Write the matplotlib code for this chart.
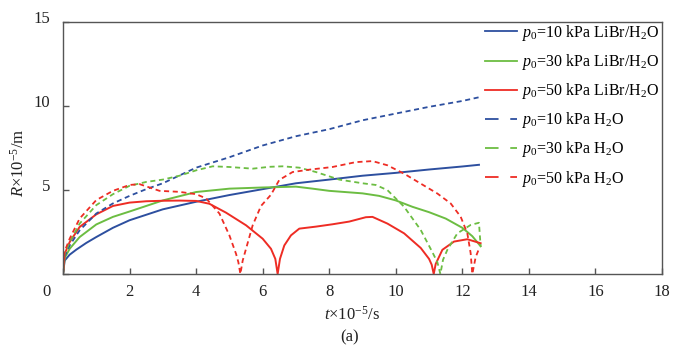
import matplotlib
matplotlib.use('Agg')
import matplotlib.pyplot as plt
from matplotlib.lines import Line2D
from matplotlib.transforms import ScaledTranslation

plt.rcParams['font.family'] = ['Liberation Serif', 'DejaVu Serif']
plt.rcParams['mathtext.fontset'] = 'custom'
plt.rcParams['mathtext.rm'] = 'Liberation Serif'
plt.rcParams['mathtext.it'] = 'Liberation Serif:italic'

# time in 1e-5 s, radius in 1e-5 m
t_b = [0, 0.05, 0.2, 0.4, 0.7, 1, 1.5, 2, 3, 4, 5, 6, 7, 8, 9, 10, 11, 12, 12.5]
R_b = [0, 0.8, 1.15, 1.45, 1.85, 2.2, 2.75, 3.2, 3.85, 4.3, 4.7, 5.05, 5.4, 5.62, 5.85, 6.02, 6.22, 6.4, 6.5]

t_g = [0, 0.05, 0.2, 0.5, 1, 1.5, 2, 3, 4, 5, 6, 7, 7.5, 8, 9, 9.5, 10, 10.5, 11, 11.5, 12, 12.3, 12.55]
R_g = [0, 0.95, 1.5, 2.2, 2.95, 3.4, 3.72, 4.38, 4.88, 5.08, 5.15, 5.2, 5.08, 4.95, 4.8, 4.65, 4.38, 4.0, 3.68, 3.3, 2.75, 2.25, 1.65]

t_r = [0, 0.05, 0.2, 0.5, 1, 1.5, 2, 2.5, 3, 3.5, 4, 4.4, 4.9, 5.5, 6.0, 6.25, 6.38, 6.45, 6.52, 6.65,
       6.85, 7.1, 7.6, 8.1, 8.6, 9.1, 9.3, 9.75, 10.25, 10.75, 11.0, 11.08, 11.14, 11.2, 11.4, 11.75, 12.15, 12.55]
R_r = [0, 1.2, 1.9, 2.8, 3.55, 4.05, 4.25, 4.33, 4.36, 4.37, 4.35, 4.18, 3.65, 2.9, 2.1, 1.5, 0.9, 0, 0.9, 1.7,
       2.3, 2.7, 2.82, 2.96, 3.12, 3.38, 3.4, 3.0, 2.42, 1.55, 0.9, 0.55, 0, 0.6, 1.44, 1.93, 2.07, 1.83]

t_bd = [0, 0.05, 0.2, 0.5, 1, 1.5, 2, 2.5, 3, 4, 5, 6, 7, 8, 9, 10, 11, 12, 12.5]
R_bd = [0, 1.05, 1.7, 2.6, 3.6, 4.2, 4.65, 5.05, 5.4, 6.33, 6.95, 7.65, 8.2, 8.62, 9.15, 9.55, 9.95, 10.3, 10.52]

t_gd = [0, 0.05, 0.2, 0.5, 1, 1.5, 2, 2.5, 3, 3.5, 4, 4.5, 5, 5.7, 6.2, 6.6, 7.1, 7.6, 8.3, 9.0, 9.4,
        9.75, 10.25, 10.75, 11.1, 11.25, 11.34, 11.42, 11.55, 11.85, 12.25, 12.5, 12.55]
R_gd = [0, 1.2, 1.9, 3.0, 4.1, 4.75, 5.25, 5.48, 5.62, 5.85, 6.17, 6.41, 6.37, 6.27, 6.38, 6.41, 6.33, 6.07, 5.62, 5.4, 5.3,
        4.99, 4.0, 2.62, 1.3, 0.7, 0, 0.85, 1.44, 2.42, 2.92, 3.05, 1.65]

t_rd = [0, 0.05, 0.2, 0.5, 1, 1.5, 2, 2.3, 2.9, 3.5, 4.0, 4.3, 4.7, 5.0, 5.2, 5.27, 5.33, 5.4, 5.5, 5.7,
        5.95, 6.25, 6.5, 6.9, 7.4, 8.1, 8.8, 9.3, 9.75, 10.25, 10.75, 11.25, 11.65, 11.95, 12.15, 12.25, 12.3, 12.4, 12.5]
R_rd = [0, 1.35, 2.1, 3.3, 4.4, 4.95, 5.3, 5.35, 4.95, 4.89, 4.75, 4.5, 3.6, 2.3, 1.2, 0.7, 0, 0.8, 1.5, 2.9,
        4.05, 4.72, 5.6, 6.07, 6.21, 6.37, 6.66, 6.72, 6.47, 5.97, 5.38, 4.79, 4.2, 3.41, 2.42, 1.24, 0, 1.0, 1.5]

labels = [r'$p_0$=10 kPa LiBr/H$_2$O', r'$p_0$=30 kPa LiBr/H$_2$O', r'$p_0$=50 kPa LiBr/H$_2$O',
          r'$p_0$=10 kPa H$_2$O', r'$p_0$=30 kPa H$_2$O', r'$p_0$=50 kPa H$_2$O']
xticks = [0, 2, 4, 6, 8, 10, 12, 14, 16, 18]
yticks = [0, 5, 10, 15]

BLUE = '#2d4f9f'
GREEN = '#6cbd42'
RED = '#ee2c24'

fig = plt.figure(figsize=(6.85, 3.51), dpi=100)
ax = fig.add_axes([63 / 685, 77 / 351, 599 / 685, 252 / 351])

lw = 1.4
dash = (2.8, 2.0)
ax.plot(t_b, R_b, color=BLUE, lw=lw)
ax.plot(t_g, R_g, color=GREEN, lw=lw)
ax.plot(t_r, R_r, color=RED, lw=lw)
ax.plot(t_bd, R_bd, color=BLUE, lw=1.3, dashes=dash)
ax.plot(t_gd, R_gd, color=GREEN, lw=1.3, dashes=dash)
ax.plot(t_rd, R_rd, color=RED, lw=1.3, dashes=dash)

ax.set_xlim(0, 18)
ax.set_ylim(0, 15)
ax.set_xticks(xticks)
ax.set_yticks(yticks)
ax.set_xticklabels([str(v) for v in xticks])
ax.set_yticklabels([''] + [str(v) for v in yticks[1:]])
ax.tick_params(direction='in', length=4, width=1, color='#555555', labelsize=12, colors='#222222')
ax.tick_params(axis='x', pad=7)
ax.tick_params(axis='y', pad=9)
for s in ax.spines.values():
    s.set_color('#555555')
    s.set_linewidth(1)

# the "0" at x sits at the corner, y labels sit a bit above their ticks
ax.get_xticklabels()[0].set_transform(ax.get_xticklabels()[0].get_transform()
                                      + ScaledTranslation(-16 / 100, 0, fig.dpi_scale_trans))
for lab in ax.get_yticklabels():
    lab.set_transform(lab.get_transform() + ScaledTranslation(0, 5 / 100, fig.dpi_scale_trans))

handles = []
for c, ls in [(BLUE, '-'), (GREEN, '-'), (RED, '-'), (BLUE, '--'), (GREEN, '--'), (RED, '--')]:
    if ls == '-':
        handles.append(Line2D([], [], color=c, lw=1.3))
    else:
        handles.append(Line2D([], [], color=c, lw=1.3, dashes=(7.5, 6.5)))
fig.legend(handles, labels, loc='upper left', bbox_to_anchor=(485 / 685, 1 - 23 / 351),
           frameon=False, fontsize=11.5, handlelength=2.0, handletextpad=0.3,
           labelspacing=0.57, borderpad=0, borderaxespad=0)

fig.text(19 / 685, 1 - 163 / 351, r'$R$×10$^{-5}$/m', rotation=90, ha='center', va='center',
         fontsize=12, color='#222222')
fig.text(352 / 685, 1 - 315 / 351, r'$t$×10$^{-5}$/s', ha='center', va='center',
         fontsize=12, color='#222222')
fig.text(350 / 685, 1 - 337 / 351, '(a)', ha='center', va='center', fontsize=12, color='#222222')

fig.savefig('out.png', dpi=100)
